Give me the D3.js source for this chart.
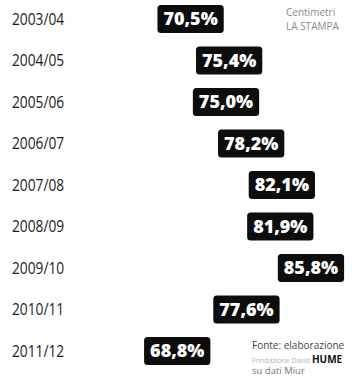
<!DOCTYPE html>
<html>
<head>
<meta charset="utf-8">
<script src="https://cdn.jsdelivr.net/npm/d3@7/dist/d3.min.js"></script>
<style>
  html, body { margin: 0; padding: 0; background: #fff; }
  svg { display: block; }
</style>
</head>
<body>
<svg id="chart" width="361" height="378"></svg>
<script>
// Anno accademico e quota percentuale
const years = ["2003/04", "2004/05", "2005/06", "2006/07", "2007/08", "2008/09", "2009/10", "2010/11", "2011/12"];
const values = [70.5, 75.4, 75.0, 78.2, 82.1, 81.9, 85.8, 77.6, 68.8];
const valueLabels = ["70,5%", "75,4%", "75,0%", "78,2%", "82,1%", "81,9%", "85,8%", "77,6%", "68,8%"];

const creditLines = ["Centimetri", "LA STAMPA"];
const sourceLines = ["Fonte: elaborazione", "Fondazione David ", "HUME", "su dati Miur"];

const svg = d3.select("#chart");

const y = d3.scalePoint().domain(years).range([19, 351]);
const x = d3.scaleLinear().domain([60, 90]).range([108, 344]);

// year labels, slightly condensed
svg.append("g").selectAll("text")
  .data(years)
  .join("text")
  .attr("transform", d => `translate(12,${y(d)}) scale(0.86,1)`)
  .attr("dy", "0.36em")
  .attr("font-family", "'Open Sans', sans-serif")
  .attr("font-size", 16)
  .attr("fill", "#1a1a1a")
  .text(d => d);

// value badges
const rows = years.map((yr, i) => ({ year: yr, value: values[i], label: valueLabels[i] }));
const badge = svg.append("g").selectAll("g")
  .data(rows)
  .join("g")
  .attr("transform", d => `translate(${x(d.value)},${y(d.year)})`);

badge.append("rect")
  .attr("fill", "#0d0d0d")
  .attr("rx", 3.5)
  .attr("ry", 3.5);

const labels = badge.append("text")
  .attr("text-anchor", "middle")
  .attr("dy", "0.36em")
  .attr("font-family", "'Open Sans', sans-serif")
  .attr("font-weight", 800)
  .attr("font-size", 18)
  .attr("fill", "#fff")
  .text(d => d.label);

labels.each(function () {
  const w = this.getComputedTextLength();
  d3.select(this.previousSibling)
    .attr("x", -w / 2 - 6)
    .attr("width", w + 12)
    .attr("y", -14)
    .attr("height", 28);
});

// credit, top right
svg.append("g").selectAll("text")
  .data(creditLines)
  .join("text")
  .attr("x", 286)
  .attr("y", (d, i) => 16 + i * 14)
  .attr("font-family", "'Open Sans', sans-serif")
  .attr("font-size", 10)
  .attr("fill", "#8a8a8a")
  .text(d => d);

// source, bottom right
const src = svg.append("g")
  .attr("font-family", "'Open Sans', sans-serif")
  .attr("fill", "#444");
src.append("text")
  .attr("x", 252).attr("y", 349)
  .attr("font-size", 10)
  .text(sourceLines[0]);
const l2 = src.append("text")
  .attr("x", 252).attr("y", 362.5);
l2.append("tspan")
  .attr("font-size", 7)
  .attr("fill", "#b5b5b5")
  .text(sourceLines[1]);
l2.append("tspan")
  .attr("font-size", 10)
  .attr("font-weight", 700)
  .attr("fill", "#111")
  .text(sourceLines[2]);
src.append("text")
  .attr("x", 252).attr("y", 374)
  .attr("font-size", 9.5)
  .attr("fill", "#777")
  .text(sourceLines[3]);
</script>
</body>
</html>
